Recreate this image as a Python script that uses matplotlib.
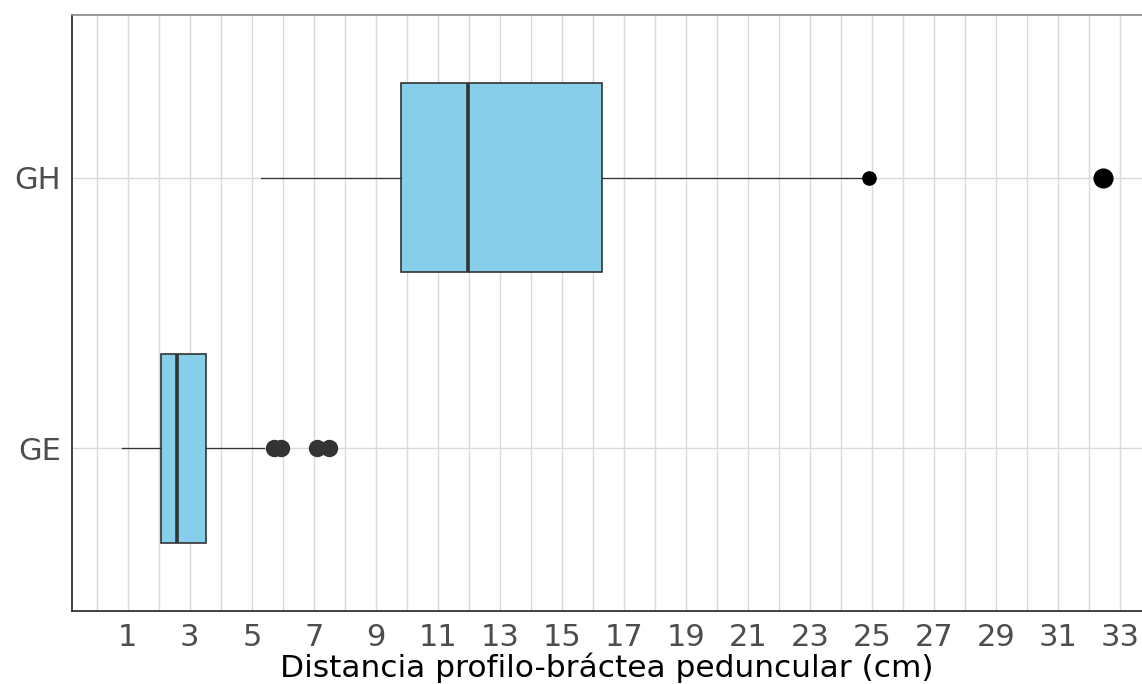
import matplotlib.pyplot as plt

plt.rcParams["font.family"] = ["DejaVu Sans"]

# resumen de cajas por grupo (cm)
grupos = ["GE", "GH"]
bigote_inf = [0.8, 5.28]
q1 = [2.06, 9.8]
mediana = [2.6, 11.97]
q3 = [3.52, 16.3]
bigote_sup = [5.4, 24.85]

# puntos atipicos: grupo, valor, tamaño, color
atip_grupo = ["GE", "GE", "GE", "GE", "GH", "GH"]
atip_valor = [5.72, 5.95, 7.1, 7.5, 24.9, 32.45]
atip_tam = [11.5, 11.5, 11.5, 11.5, 9.5, 13.5]
atip_color = ["#333333"] * 4 + ["black", "black"]

ticks_x = list(range(1, 34, 2))

fig = plt.figure(figsize=(11.42, 6.84), dpi=100)
ax = fig.add_axes([72 / 1142, 1 - 611 / 684, 1 - 72 / 1142, (611 - 15) / 684])

stats = []
for i, g in enumerate(grupos):
    stats.append({
        "label": g,
        "whislo": bigote_inf[i],
        "q1": q1[i],
        "med": mediana[i],
        "q3": q3[i],
        "whishi": bigote_sup[i],
        "fliers": [],
    })

pos = [i + 1 for i in range(len(grupos))]
ax.bxp(
    stats,
    positions=pos,
    widths=0.7,
    vert=False,
    patch_artist=True,
    showfliers=False,
    showcaps=False,
    boxprops=dict(facecolor="#87CEEB", edgecolor="#333333", linewidth=1.2),
    medianprops=dict(color="#333333", linewidth=2.6),
    whiskerprops=dict(color="#333333", linewidth=0.9),
    zorder=3,
)

for g, v, s, c in zip(atip_grupo, atip_valor, atip_tam, atip_color):
    ax.plot(v, grupos.index(g) + 1, "o", ms=s, color=c, mec=c, zorder=4)

ax.set_xlim(-0.8, 33.7)
ax.set_ylim(0.4, 2.6)
ax.set_xticks(ticks_x)
ax.set_xticks(range(0, 34), minor=True)
ax.set_yticks(pos)
ax.set_yticklabels(grupos)

ax.grid(True, which="both", axis="x", color="#D9D9D9", linewidth=1.0, zorder=0)
ax.grid(True, axis="y", color="#D9D9D9", linewidth=1.0, zorder=0)
ax.set_axisbelow(True)

ax.tick_params(axis="both", which="both", length=0, labelsize=22, labelcolor="#4D4D4D")
ax.tick_params(axis="x", pad=9)
ax.tick_params(axis="y", pad=8)

for s in ["left", "bottom"]:
    ax.spines[s].set_color("#333333")
    ax.spines[s].set_linewidth(1.3)
ax.spines["top"].set_color("#888888")
ax.spines["top"].set_linewidth(1.2)
ax.spines["right"].set_visible(False)

ax.set_xlabel("Distancia profilo-bráctea peduncular (cm)", fontsize=22.5, color="black", labelpad=0)

fig.savefig("out.png", dpi=100, facecolor="white")
